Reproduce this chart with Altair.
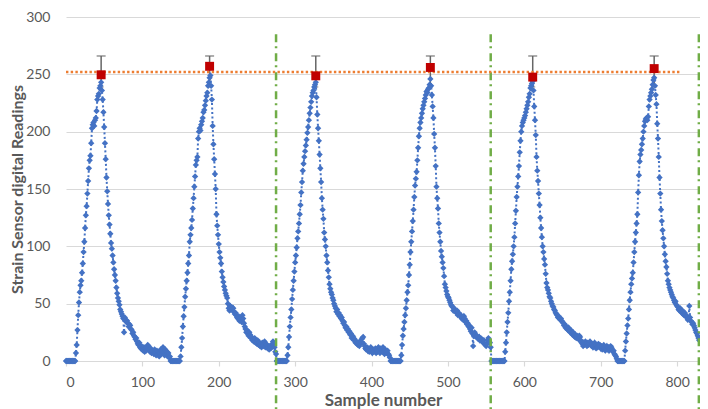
import altair as alt
import pandas as pd

# ---- data ----
cycle_starts = [0, 150, 290, 439, 575, 732]

cycle1 = [0, 0, 0, 0, 0, 0, 0, 0, 0, 0, 0, 0, 0,
          7, 14, 27, 40, 51, 60, 66, 70, 77, 85, 95, 104, 116, 127, 135, 146, 157, 168, 175, 179,
          190, 203, 206, 208, 205, 210, 212, 218, 228, 231, 233, 238, 240, 243,
          236, 228, 217, 204, 190, 176, 160, 148, 137, 127, 119, 111, 103, 98, 92, 86, 80, 75, 70, 64,
          59, 55, 52, 49, 45, 43, 41, 39, 37, 25, 38, 36, 34, 35, 33, 30, 32, 31, 28, 27,
          24, 25, 22, 21, 19, 20, 17, 15, 14, 16, 12, 11, 13, 10, 9, 12, 8, 11, 9, 12,
          14, 13, 10, 8, 11, 7, 9, 8, 6, 10, 7, 5, 9, 6, 8, 4, 7, 10, 6, 9,
          12, 7, 5, 10, 6, 8, 4, 7, 3, 4,
          0, 0, 0, 0, 0, 0, 0, 0, 0, 0, 0, 0, 0]

cycle2 = [4, 12, 20, 30, 39, 47, 56, 63, 70, 77, 85, 92, 104, 110, 116, 123, 133, 142, 152, 161,
          171, 175, 178, 194, 200, 203, 201, 206, 209, 212, 217, 219, 223, 227, 231, 234, 240, 243, 247, 249,
          240, 228, 205, 189, 176, 163, 150, 128, 118, 110, 102, 95, 90, 85, 78, 73, 69, 65, 62, 59,
          57, 55, 50, 46, 44, 48, 45, 47, 44, 46, 43, 41, 42, 40, 38, 37, 39, 35, 36, 38,
          34, 40, 37, 33, 30, 28, 25, 27, 24, 22, 25, 23, 20, 21, 18, 19, 17, 20, 16, 17,
          15, 18, 14, 16, 13, 15, 12, 16, 14, 13, 17, 12, 15, 14, 11, 12, 10, 13, 11, 12,
          15, 17, 14, 12, 8, 6,
          0, 0, 0, 0, 0, 0, 0, 0, 0, 0, 0, 0, 0, 0]

cycle3 = [5, 12, 21, 30, 38, 45, 54, 62, 70, 78, 86, 92, 99, 107, 113, 120, 128, 136, 147, 156,
          166, 172, 178, 183, 188, 193, 199, 204, 210, 216, 221, 226, 231, 234, 236, 239, 241, 243,
          230, 215, 203, 192, 180, 168, 156, 142, 132, 124, 112, 106, 100, 92, 86, 79, 73, 67, 63, 60,
          58, 55, 53, 50, 48, 46, 43, 45, 41, 42, 39, 40, 37, 38, 35, 33, 34, 31, 29, 30,
          27, 28, 25, 26, 23, 24, 20, 22, 21, 18, 19, 16, 17, 15, 14, 16, 13, 15, 17, 19,
          20, 21, 15, 13, 11, 10, 12, 9, 11, 8, 10, 12, 9, 7, 10, 8, 9, 11, 7, 10,
          8, 12, 9, 7, 11, 10, 8, 12, 9, 6, 10, 8, 7, 9, 6, 5, 3,
          0, 0, 0, 0, 0, 0, 0, 0, 0, 0, 0, 0, 0, 0]

cycle4 = [5, 14, 22, 28, 34, 40, 46, 53, 60, 66, 75, 84, 95, 104, 113, 122, 132, 143, 153, 159,
          165, 175, 186, 196, 203, 208, 212, 216, 220, 223, 226, 229, 232, 235, 234, 237, 238, 241, 246,
          240, 232, 222, 212, 198, 186, 170, 152, 142, 133, 120, 112, 104, 96, 91, 86, 81, 74, 67, 64,
          61, 58, 56, 55, 53, 51, 49, 48, 47, 44, 46, 45, 43, 42, 44, 40, 42, 41, 39, 40,
          37, 38, 36, 39, 37, 34, 35, 32, 33, 30, 31, 28, 26, 29, 24, 13, 22, 25, 23, 21,
          22, 20, 19, 21, 18, 20, 19, 17, 16, 18, 15, 14, 13, 15, 18, 20, 17, 16, 12,
          0, 0, 0, 0, 0, 0, 0, 0, 0, 0, 0, 0, 0, 0, 0, 0, 0, 0]

cycle5 = [8, 16, 25, 34, 42, 52, 60, 70, 80, 87, 93, 100, 108, 120, 131, 143, 152, 161, 170, 182,
          192, 200, 205, 208, 210, 212, 214, 217, 220, 223, 226, 230, 233, 238, 240, 242, 244,
          236, 222, 210, 197, 178, 166, 157, 146, 136, 125, 116, 108, 100, 95, 89, 84, 76, 68, 64, 62,
          59, 56, 55, 52, 50, 48, 47, 45, 44, 42, 41, 40, 38, 39, 37, 36, 37, 35, 34, 33,
          31, 32, 29, 30, 28, 27, 29, 26, 25, 27, 24, 23, 25, 22, 21, 23, 20, 22, 21, 19,
          22, 21, 18, 16, 15, 13, 16, 14, 17, 15, 13, 16, 14, 15, 17, 14, 13, 15, 12, 14,
          16, 13, 11, 14, 12, 15, 13, 14, 11, 13, 10, 12, 14, 11, 9, 11, 13, 10, 12, 9,
          11, 13, 12, 10, 8, 9, 6, 5, 4, 2,
          0, 0, 0, 0, 0, 0, 0, 0, 0, 0]

cycle6 = [9, 17, 24, 31, 37, 45, 53, 60, 67, 72, 77, 86, 95, 104, 112, 120, 128, 147, 162, 174,
          180, 184, 189, 194, 200, 205, 209, 211, 212, 210, 213, 222, 228, 231, 234, 237, 241, 245, 247,
          240, 232, 224, 207, 194, 178, 160, 146, 132, 122, 114, 107, 100, 93, 87, 82, 76, 70, 67, 64,
          62, 60, 58, 56, 55, 53, 51, 52, 49, 48, 47, 45, 44, 46, 43, 42, 44, 41, 40, 42,
          39, 40, 38, 36, 37, 48, 38, 35, 34, 32, 33, 31, 29, 27, 25, 24, 22, 20, 18]

cycles = [cycle1, cycle2, cycle3, cycle4, cycle5, cycle6]

peak_samples = [46, 188, 327, 477, 611, 770]
peak_values = [249.6, 257, 248.7, 256, 247.6, 255]
err_low = [239, 239, 239, 239, 239, 239]
err_high = [266, 266, 266, 266, 266, 266]

mean_level = [252]
mean_start = [0]
mean_end = [806]

divider_samples = [275, 556, 828.5]
divider_top = [285, 285, 285]

x_ticks = [0, 100, 200, 300, 400, 500, 600, 700, 800]
y_ticks = [0, 50, 100, 150, 200, 250, 300]

# ---- tables ----
xs, ys = [], []
for start, vals in zip(cycle_starts, cycles):
    for i, v in enumerate(vals):
        xs.append(start + i)
        ys.append(v)
blue = pd.DataFrame({"sample": xs, "reading": ys})
peaks = pd.DataFrame({"sample": peak_samples, "reading": peak_values,
                      "lo": err_low, "hi": err_high})
mean_df = pd.DataFrame({"sample": mean_start, "x2": mean_end, "reading": mean_level})
div_df = pd.DataFrame({"sample": divider_samples, "reading": divider_top})

W, H = 634, 344
TOP = 9
FONT = "Lato"
GRAY = "#595959"

xscale = alt.Scale(domain=[0, 830], nice=False, zero=False)
yscale = alt.Scale(domain=[0, 300], nice=False)

XT = "Sample number"
YT = "Strain Sensor digital Readings"

x_axis = alt.Axis(values=x_ticks, title=XT, grid=False,
                  domainColor="#D9D9D9", domainWidth=1.2, tickColor="#D9D9D9",
                  tickSize=5, tickWidth=1.2, labelPadding=9, labelFont=FONT,
                  labelFontSize=14, labelColor=GRAY, titleFont=FONT,
                  titleFontSize=17, titleFontWeight="bold", titleColor=GRAY,
                  titleBaseline="alphabetic", titleY=44)
y_axis = alt.Axis(values=y_ticks, title=YT,
                  grid=True, gridColor="#D9D9D9", gridWidth=1.2, domain=False,
                  ticks=False, tickSize=0, labelPadding=16, labelFont=FONT,
                  labelFontSize=14, labelColor=GRAY, titleFont=FONT,
                  titleFontSize=16, titleFontWeight="bold", titleColor=GRAY,
                  titleX=-41)

X = alt.X("sample:Q", scale=xscale, axis=x_axis, title=XT)
Y = alt.Y("reading:Q", scale=yscale, axis=y_axis, title=YT)

BLUE = "#4472C4"
ERR = "#666666"

line = alt.Chart(blue).mark_line(color=BLUE, strokeWidth=2, strokeDash=[2, 2.5]).encode(
    x=X, y=Y, order="sample:Q",
)
pts = alt.Chart(blue).mark_point(shape="diamond", filled=True, size=40, color=BLUE,
                                 opacity=1).encode(x=X, y=Y)
err = alt.Chart(peaks).mark_rule(color=ERR, strokeWidth=1.5).encode(
    x=X, y=alt.Y("lo:Q", scale=yscale, axis=y_axis, title=YT),
    y2="hi:Q",
)
cap_hi = alt.Chart(peaks).mark_tick(color=ERR, orient="horizontal", size=9,
                                    thickness=1.5).encode(
    x=X, y=alt.Y("hi:Q", scale=yscale, axis=y_axis, title=YT),
)
cap_lo = alt.Chart(peaks).mark_tick(color=ERR, orient="horizontal", size=5,
                                    thickness=1.2).encode(
    x=X, y=alt.Y("lo:Q", scale=yscale, axis=y_axis, title=YT),
)
mean_line = alt.Chart(mean_df).mark_rule(color="#ED7D31", strokeWidth=2.5,
                                         strokeDash=[2.4, 2.3]).encode(
    x=X, x2="x2:Q", y=Y,
)
dividers = alt.Chart(div_df).mark_rule(color="#70AD47", strokeWidth=2.5,
                                       strokeDash=[8, 4, 2, 5]).encode(
    x=X, y=Y, y2=alt.value(H + 48),
)
squares = alt.Chart(peaks).mark_square(size=80, color="#C00000", opacity=1).encode(
    x=X, y=Y,
)

chart = alt.layer(line, err, cap_lo, cap_hi, pts, dividers, mean_line, squares).properties(
    width=W, height=H,
    padding={"left": 58, "top": TOP, "right": 0, "bottom": 48},
    autosize=alt.AutoSizeParams(type="none"),
    background="white",
).configure_view(stroke=None)

chart.save("out.html", embed_options={"renderer": "svg", "actions": False})
